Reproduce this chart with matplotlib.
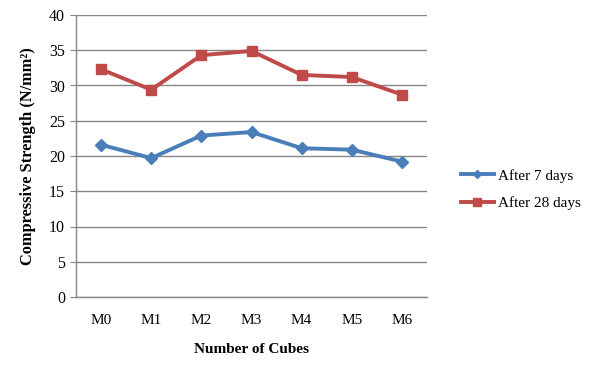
import matplotlib
matplotlib.use("Agg")
import matplotlib.pyplot as plt

# Compressive strength of cube mixes
mixes = ["M0", "M1", "M2", "M3", "M4", "M5", "M6"]
after_7_days = [21.6, 19.7, 22.9, 23.4, 21.1, 20.9, 19.2]
after_28_days = [32.3, 29.4, 34.3, 34.9, 31.5, 31.2, 28.7]
y_ticks = [0, 5, 10, 15, 20, 25, 30, 35, 40]

plt.rcParams["font.family"] = ["Liberation Serif", "DejaVu Serif"]

fig = plt.figure(figsize=(5.95, 3.65), dpi=100)
ax = fig.add_axes([76 / 595, 1 - 297 / 365, (427 - 76) / 595, (297 - 15) / 365])

x = list(range(len(mixes)))
blue = "#4A7EBB"
red = "#BE4B48"
ax.plot(x, after_7_days, color=blue, lw=2.8, marker="D", markersize=6.5,
        label="After 7 days", zorder=3)
ax.plot(x, after_28_days, color=red, lw=2.8, marker="s", markersize=7.5,
        label="After 28 days", zorder=3)

ax.set_xlim(-0.5, len(mixes) - 0.5)
ax.set_ylim(0, 40)
ax.set_yticks(y_ticks)
ax.set_xticks(x)
ax.set_xticklabels(mixes)
ax.yaxis.grid(True, color="#878787", lw=1.0)
ax.set_axisbelow(True)

for s in ["top", "right"]:
    ax.spines[s].set_visible(False)
for s in ["left", "bottom"]:
    ax.spines[s].set_color("#878787")
    ax.spines[s].set_linewidth(1.0)

ax.tick_params(axis="y", length=4, color="#878787", labelsize=11.5, pad=4)
ax.tick_params(axis="x", length=0, labelsize=11, pad=12)

ax.set_xlabel("Number of Cubes", fontsize=11, fontweight="bold", labelpad=12)
ax.set_ylabel("Compressive Strength (N/mm²)", fontsize=11.8,
              fontweight="bold", labelpad=9)

fig.legend(loc="upper left", bbox_to_anchor=(447 / 595, 1 - 155 / 365),
           frameon=False, fontsize=11, markerscale=0.7, handlelength=2.15,
           handletextpad=0.3, labelspacing=0.9)

fig.savefig("out.png", dpi=100)
